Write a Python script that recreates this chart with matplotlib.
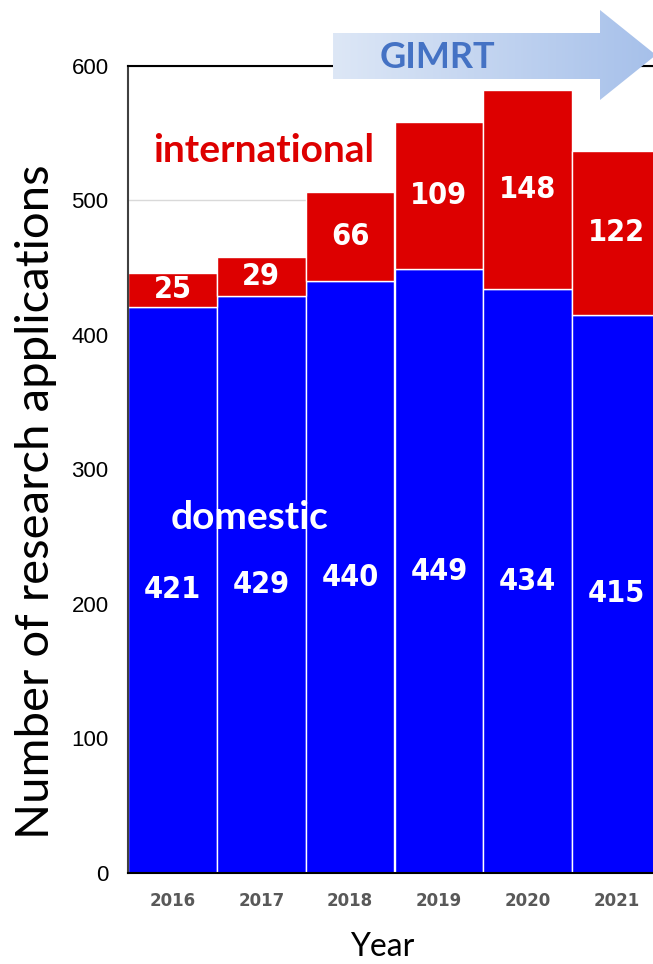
import matplotlib
matplotlib.use("Agg")
import matplotlib.pyplot as plt
import numpy as np
from matplotlib.patches import Polygon
from matplotlib.colors import LinearSegmentedColormap

years = ["2016", "2017", "2018", "2019", "2020", "2021"]
domestic = [421, 429, 440, 449, 434, 415]
international = [25, 29, 66, 109, 148, 122]
yticks = [0, 100, 200, 300, 400, 500, 600]

W, H = 653, 964
fig = plt.figure(figsize=(W / 100, H / 100), dpi=100)
ax = fig.add_axes([128 / W, (H - 873) / H, (661 - 128) / W, (873 - 66) / H])

x = np.arange(len(years))
ax.bar(x, domestic, width=1.0, color="#0000FF", edgecolor="white", linewidth=1.0, zorder=2)
ax.bar(x, international, bottom=domestic, width=1.0, color="#DD0000",
       edgecolor="white", linewidth=1.0, zorder=2)

ax.set_xlim(-0.5, len(years) - 0.5)
ax.set_ylim(0, 600)
ax.set_yticks(yticks)
ax.set_yticklabels([str(v) for v in yticks], fontsize=16, family="Liberation Sans")
ax.set_xticks(x)
ax.set_xticklabels(years, fontsize=12, fontweight="bold", color="#595959")
ax.tick_params(axis="both", length=0)
ax.tick_params(axis="y", pad=14)
ax.tick_params(axis="x", pad=14)
ax.yaxis.grid(True, color="#D9D9D9", linewidth=1.0, zorder=0)
ax.set_axisbelow(True)
ax.spines["right"].set_visible(False)
ax.spines["left"].set_color("#404040")
ax.spines["left"].set_linewidth(1.5)
ax.spines["top"].set_color("black")
ax.spines["top"].set_linewidth(1.5)
ax.spines["bottom"].set_color("black")
ax.spines["bottom"].set_linewidth(1.5)

fig.text(36 / W, 1 - 502 / H, "Number of research applications", fontsize=34, family="Lato",
         rotation=90, ha="center", va="center")
fig.text(382 / W, 1 - 947 / H, "Year", fontsize=23, family="Lato", ha="center", va="center")

lab_font = dict(fontsize=22, fontweight="bold", color="white", ha="center", va="center",
                family="DejaVu Sans", fontstretch="condensed", zorder=4)
for i in range(len(years)):
    ax.text(x[i], domestic[i] / 2, str(domestic[i]), **lab_font)
    ax.text(x[i], domestic[i] + international[i] / 2, str(international[i]), **lab_font)

ax.text(1.03, 537, "international", fontsize=28, fontweight="bold", color="#DD0000",
        family="Lato", ha="center", va="center", zorder=4)
ax.text(0.87, 264, "domestic", fontsize=28, fontweight="bold", color="white",
        family="Lato", ha="center", va="center", zorder=4)

# GIMRT arrow overlay in pixel coordinates
ov = fig.add_axes([0, 0, 1, 1], zorder=5)
ov.set_xlim(0, W)
ov.set_ylim(H, 0)
ov.axis("off")
ov.patch.set_alpha(0)
pts = [(333, 33), (600, 33), (600, 10), (656, 55), (600, 100), (600, 79), (333, 79)]
poly = Polygon(pts, closed=True, facecolor="none", edgecolor="none")
ov.add_patch(poly)
grad = np.linspace(0, 1, 256).reshape(1, -1)
cmap = LinearSegmentedColormap.from_list("g", ["#DDE7F6", "#A6C0EA"])
im = ov.imshow(grad, extent=[333, 656, 100, 10], aspect="auto", cmap=cmap, zorder=1)
im.set_clip_path(poly)
ov.text(437, 57, "GIMRT", fontsize=26, fontweight="bold", color="#4472C4",
        family="Lato", ha="center", va="center", zorder=2)

fig.savefig("out.png", dpi=100)
